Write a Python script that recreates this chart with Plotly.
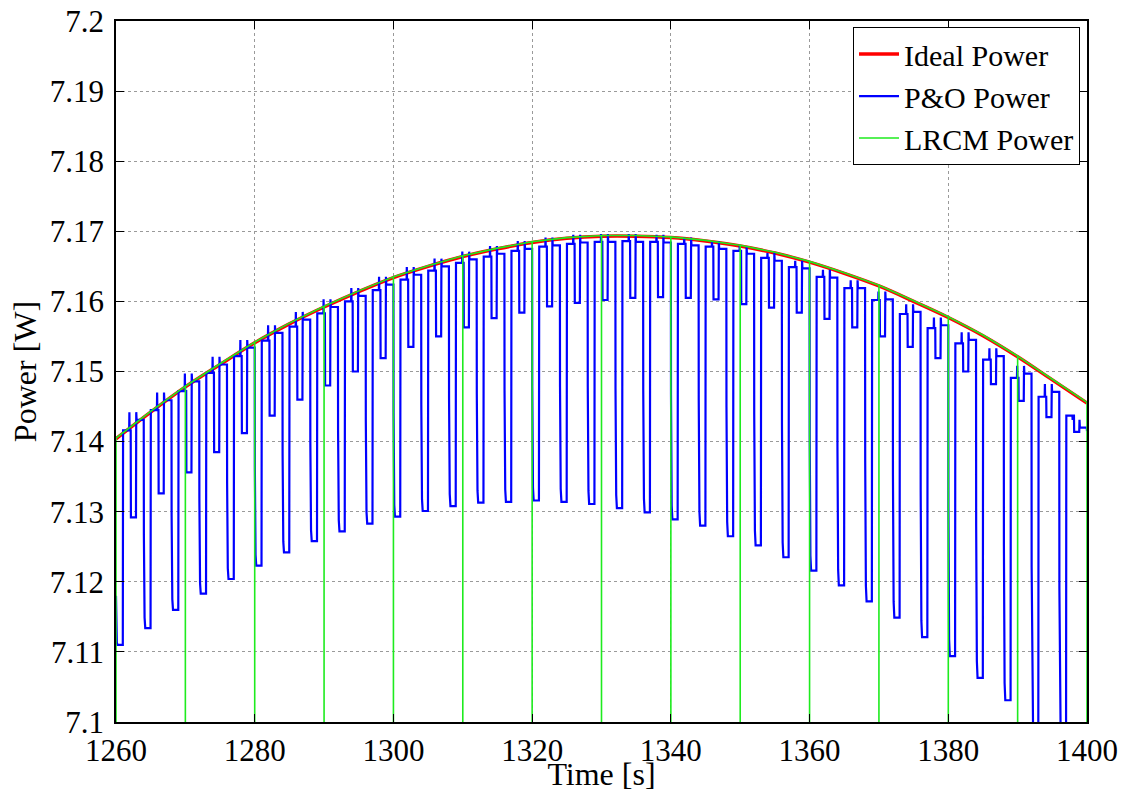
import plotly.graph_objects as go

# ---------------- data ----------------
ideal_time = [1260, 1265, 1270, 1275, 1280, 1285, 1290, 1295, 1300, 1305, 1310, 1315, 1320, 1325, 1330,
              1335, 1340, 1345, 1350, 1355, 1360, 1365, 1370, 1375, 1380, 1385, 1390, 1395, 1400]
ideal_power = [7.1404, 7.1442, 7.1478, 7.1510, 7.1541, 7.1568, 7.1592, 7.1614, 7.1634, 7.1650, 7.1664,
               7.1675, 7.1684, 7.1690, 7.1693, 7.1693, 7.1691, 7.1686, 7.1679, 7.1669, 7.1656, 7.1640,
               7.1622, 7.1600, 7.1577, 7.1551, 7.1521, 7.1488, 7.1455]

lrcm_time = [1260, 1265, 1270, 1275, 1280, 1285, 1290, 1295, 1300, 1305, 1310, 1315, 1320, 1325, 1330,
             1335, 1340, 1345, 1350, 1355, 1360, 1365, 1370, 1375, 1380, 1385, 1390, 1395, 1400]
lrcm_power = [7.1405, 7.1443, 7.1479, 7.1511, 7.1542, 7.1569, 7.1593, 7.1615, 7.1635, 7.1651, 7.1665,
              7.1676, 7.1685, 7.1691, 7.1694, 7.1694, 7.1692, 7.1687, 7.1680, 7.1670, 7.1657, 7.1641,
              7.1623, 7.1601, 7.1578, 7.1552, 7.1522, 7.1489, 7.1456]
lrcm_perturb_time = [1260, 1270, 1280, 1290, 1300, 1310, 1320, 1330, 1340, 1350, 1360, 1370, 1380, 1390, 1400]
lrcm_perturb_power = [7.08, 7.08, 7.08, 7.08, 7.08, 7.08, 7.08, 7.08, 7.08, 7.08, 7.08, 7.08, 7.08, 7.08, 7.08]

po_cycle_start = [1260, 1264, 1268, 1272, 1276, 1280, 1284, 1288, 1292, 1296, 1300, 1304, 1308, 1312,
                  1316, 1320, 1324, 1328, 1332, 1336, 1340, 1344, 1348, 1352, 1356, 1360, 1364, 1368,
                  1372, 1376, 1380, 1384, 1388, 1392, 1396]
po_deep_min = [7.1110, 7.1134, 7.1160, 7.1183, 7.1204, 7.1223, 7.1242, 7.1258, 7.1272, 7.1283, 7.1293,
               7.1301, 7.1308, 7.1313, 7.1314, 7.1316, 7.1314, 7.1311, 7.1305, 7.1299, 7.1289, 7.1280,
               7.1265, 7.1252, 7.1235, 7.1216, 7.1195, 7.1172, 7.1149, 7.1121, 7.1094, 7.1063, 7.1031,
               7.0995, 7.0960]
po_shallow_min = [7.1292, 7.1326, 7.1356, 7.1385, 7.1412, 7.1437, 7.1460, 7.1480, 7.1500, 7.1519, 7.1535,
                  7.1550, 7.1563, 7.1576, 7.1584, 7.1593, 7.1598, 7.1602, 7.1605, 7.1606, 7.1605, 7.1603,
                  7.1596, 7.1591, 7.1584, 7.1575, 7.1563, 7.1550, 7.1535, 7.1519, 7.1500, 7.1482, 7.1458,
                  7.1435, 7.1414]
po_top_after_deep = [7.1416, 7.1445, 7.1472, 7.1498, 7.1522, 7.1544, 7.1564, 7.1583, 7.1600, 7.1616,
                     7.1631, 7.1644, 7.1655, 7.1664, 7.1672, 7.1678, 7.1682, 7.1685, 7.1686, 7.1685,
                     7.1682, 7.1678, 7.1672, 7.1662, 7.1649, 7.1635, 7.1619, 7.1602, 7.1582, 7.1562,
                     7.1540, 7.1517, 7.1491, 7.1464, 7.1437]
po_top_after_shallow = [7.1431, 7.1459, 7.1486, 7.1510, 7.1534, 7.1555, 7.1574, 7.1592, 7.1608, 7.1624,
                        7.1638, 7.1650, 7.1660, 7.1668, 7.1675, 7.1680, 7.1684, 7.1685, 7.1685, 7.1684,
                        7.1680, 7.1675, 7.1668, 7.1658, 7.1647, 7.1634, 7.1619, 7.1603, 7.1585, 7.1566,
                        7.1545, 7.1522, 7.1497, 7.1471, 7.1420]
po_start_power = 7.1180
po_end_power = 7.1415

y_tick_vals = [7.10, 7.11, 7.12, 7.13, 7.14, 7.15, 7.16, 7.17, 7.18, 7.19, 7.20]
y_tick_text = ["7.1", "7.11", "7.12", "7.13", "7.14", "7.15", "7.16", "7.17", "7.18", "7.19", "7.2"]
x_tick_vals = [1260, 1280, 1300, 1320, 1340, 1360, 1380, 1400]

# ---------------- build the P&O waveform from the cycle data ----------------
SPIKE = 0.0011
po_t, po_p = [], []
prev = po_start_power
for k, t0 in enumerate(po_cycle_start):
    dmin = po_deep_min[k]
    smin = po_shallow_min[k]
    p1 = po_top_after_deep[k]
    p2 = po_top_after_shallow[k]
    spk = p2 + SPIKE
    d = prev - dmin
    seq = [
        (0.00, prev), (0.02, prev - 0.55 * d), (0.07, dmin + 0.2 * d), (0.12, dmin + 0.05 * d),
        (0.22, dmin), (0.98, dmin), (1.02, p1),
        (1.90, p1), (1.93, spk), (1.96, p1), (2.12, p1), (2.15, smin),
        (2.88, smin), (2.92, spk), (2.97, p2), (3.97, p2),
    ]
    for dt, v in seq:
        po_t.append(t0 + dt)
        po_p.append(v)
    prev = p2
po_t.append(1400)
po_p.append(po_end_power)

# ---------------- build LRCM trace with its perturbation spikes ----------------
lr_t, lr_p = [], []
for t, v in zip(lrcm_time, lrcm_power):
    lr_t.append(t)
    lr_p.append(v)
    if t in lrcm_perturb_time:
        j = lrcm_perturb_time.index(t)
        lr_t += [t, t]
        lr_p += [lrcm_perturb_power[j], v]

FONT = "Liberation Serif"

fig = go.Figure()
fig.add_trace(go.Scatter(x=ideal_time, y=ideal_power, mode="lines", name="Ideal Power",
                         line=dict(color="#ff0000", width=3.5, shape="spline")))
fig.add_trace(go.Scatter(x=po_t, y=po_p, mode="lines", name="P&O Power",
                         line=dict(color="#0000ff", width=2.2)))
fig.add_trace(go.Scatter(x=lr_t, y=lr_p, mode="lines", name="LRCM Power",
                         line=dict(color="#1eeb1e", width=1.6)))

axis_common = dict(
    showline=True, linecolor="black", linewidth=1.5, mirror="ticks",
    ticks="inside", ticklen=8, tickwidth=1, tickcolor="black",
    showgrid=True, gridcolor="#9a9a9a", griddash="dot", gridwidth=1,
    zeroline=False, automargin=False,
    tickfont=dict(family=FONT, size=31, color="black"),
)

fig.update_layout(
    width=1122, height=792,
    margin=dict(l=116, r=35, t=21, b=70),
    paper_bgcolor="white", plot_bgcolor="white",
    font=dict(family=FONT, color="black"),
    showlegend=True,
    legend=dict(
        x=0.9928, y=0.9914, xanchor="right", yanchor="top",
        bgcolor="white", bordercolor="black", borderwidth=1,
        font=dict(family=FONT, size=30, color="black"),
        tracegroupgap=0, itemwidth=40,
    ),
    xaxis=dict(range=[1260, 1400], tickvals=x_tick_vals,
               title=dict(text="Time [s]", font=dict(family=FONT, size=32, color="black"), standoff=0),
               **axis_common),
    yaxis=dict(range=[7.1, 7.2], tickvals=y_tick_vals, ticktext=y_tick_text, ticklabelstandoff=4,
               title=dict(text="Power [W]", font=dict(family=FONT, size=32, color="black"), standoff=4),
               **axis_common),
)

fig.write_html("out.html")
